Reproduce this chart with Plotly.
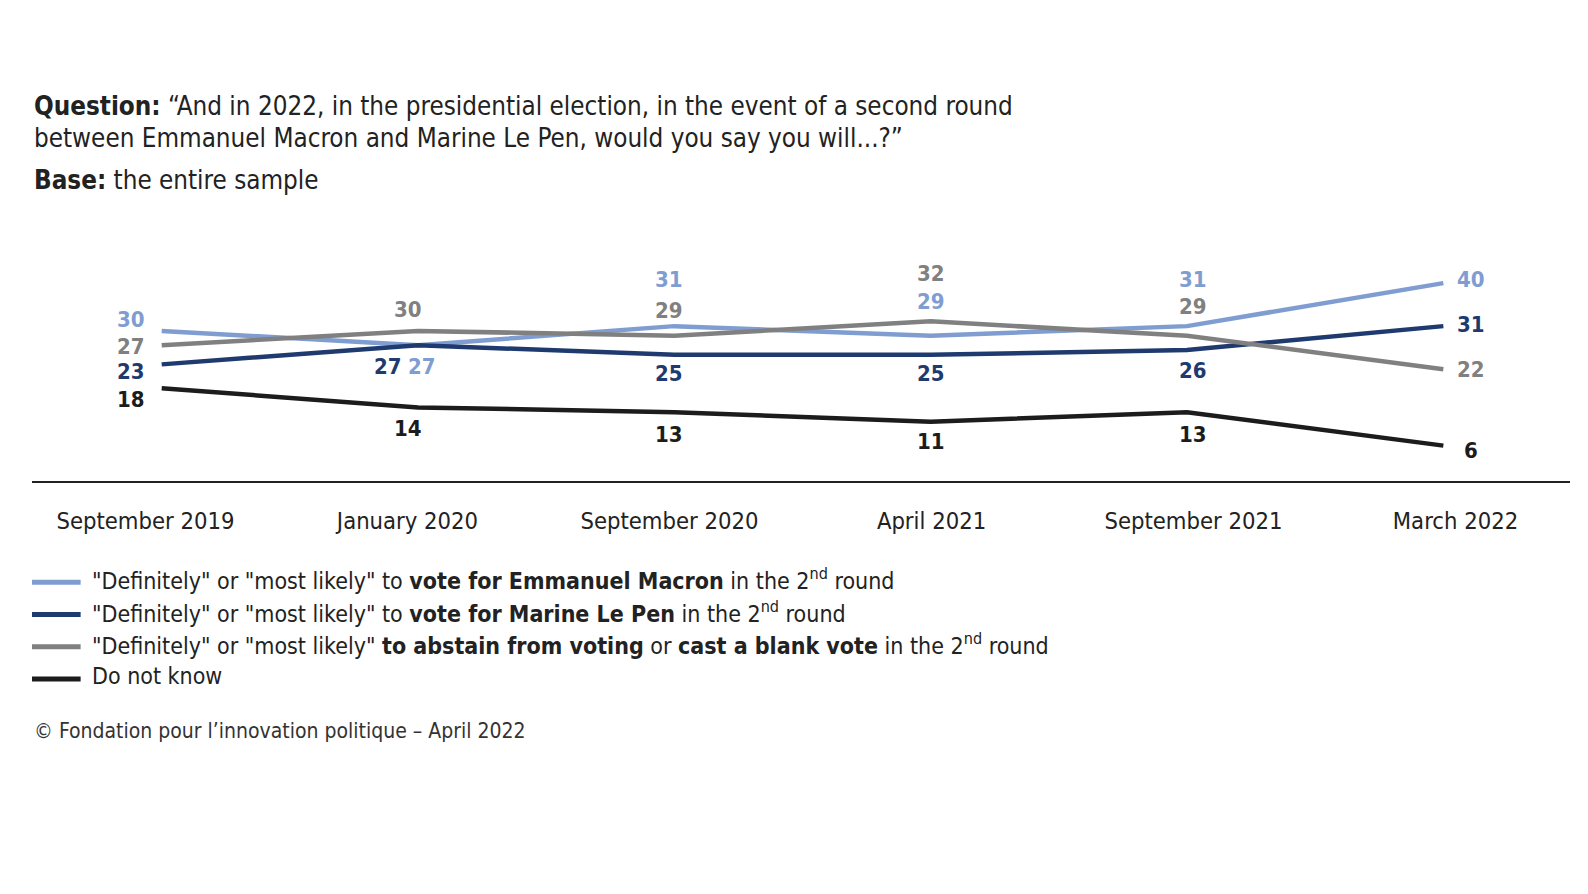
import plotly.graph_objects as go

# survey waves
waves = ["September 2019", "January 2020", "September 2020",
         "April 2021", "September 2021", "March 2022"]

# % of respondents
macron = [30, 27, 31, 29, 31, 40]
le_pen = [23, 27, 25, 25, 26, 31]
abstain = [27, 30, 29, 32, 29, 22]
dont_know = [18, 14, 13, 11, 13, 6]

legend_labels = [
    '"Definitely" or "most likely" to <b>vote for Emmanuel Macron</b> in the 2<sup>nd</sup> round',
    '"Definitely" or "most likely" to <b>vote for Marine Le Pen</b> in the 2<sup>nd</sup> round',
    '"Definitely" or "most likely" <b>to abstain from voting</b> or <b>cast a blank vote</b> in the 2<sup>nd</sup> round',
    'Do not know',
]

FONT = "DejaVu Sans Condensed, Liberation Sans Narrow, sans-serif"
colors = ["#7f9dd1", "#1f3a6f", "#808080", "#1c1c1c"]

K = 1.0132  # layout was measured on a slightly shrunk view

# label offsets in px (dx, dy) for each point of each series, dy positive = down
label_pos = [
    [(-30, -11), (4, 21), (-5, -46), (0, -34), (6, -46), (27, -4)],
    [(-30, 7), (-30, 21), (-5, 18), (0, 18), (6, 20), (27, -2)],
    [(-30, 1), (-10, -21), (-5, -25), (0, -47), (6, -29), (27, 0)],
    [(-30, 11), (-10, 21), (-5, 22), (0, 20), (6, 22), (27, 5)],
]

series = [macron, le_pen, abstain, dont_know]
x = list(range(len(waves)))

W, H = 1588, 894
# plot area in px
L, R, T, B = 32 * K, 1550 * K, 250 * K, 475 * K
X0, DX = 160 * K, 253 * K     # line points: first wave position, spacing
TX0, TDX = 144 * K, 258.6 * K  # tick labels sit on a slightly wider grid


def px(xp):
    return (xp * K - L) / (R - L)


def py(yp):
    return (B - yp * K) / (B - T)


fig = go.Figure()
for vals, col in zip(series, colors):
    fig.add_trace(go.Scatter(x=x, y=vals, mode="lines",
                             line=dict(color=col, width=4.5),
                             showlegend=False, hoverinfo="skip"))
# carrier for the tick-label axis
fig.add_trace(go.Scatter(x=x, y=[None] * len(x), xaxis="x2", mode="lines",
                         showlegend=False, hoverinfo="skip"))

annotations = []
for vals, col, offs in zip(series, colors, label_pos):
    for xi, v, (dx, dy) in zip(x, vals, offs):
        annotations.append(dict(
            x=xi, y=v, xref="x", yref="y", text="<b>%d</b>" % v,
            showarrow=False, xshift=dx * K, yshift=-dy * K,
            font=dict(family=FONT, size=22, color=col),
            xanchor="center", yanchor="middle"))

# title block
title_font = dict(family=FONT, size=25.8, color="#222")
annotations += [
    dict(x=0, y=py(105), xref="paper", yref="paper", xanchor="left", yanchor="middle",
         text="<b>Question:</b> “And in 2022, in the presidential election, in the event of a second round",
         showarrow=False, font=title_font),
    dict(x=0, y=py(137), xref="paper", yref="paper", xanchor="left", yanchor="middle",
         text="between Emmanuel Macron and Marine Le Pen, would you say you will...?”",
         showarrow=False, font=title_font),
    dict(x=0, y=py(178), xref="paper", yref="paper", xanchor="left", yanchor="middle",
         text="<b>Base:</b> the entire sample",
         showarrow=False, font=title_font),
]

# legend
shapes = []
for i, (lab, col) in enumerate(zip(legend_labels, colors)):
    yc = 572 + i * 31.8
    shapes.append(dict(type="line", xref="paper", yref="paper",
                       x0=px(32), x1=px(80), y0=py(yc + 3), y1=py(yc + 3),
                       line=dict(color=col, width=5)))
    annotations.append(dict(x=px(89), y=py(yc), xref="paper", yref="paper",
                            xanchor="left", yanchor="middle", text=lab,
                            showarrow=False,
                            font=dict(family=FONT, size=23, color="#222")))

annotations.append(dict(x=0, y=py(722), xref="paper", yref="paper",
                        xanchor="left", yanchor="middle",
                        text="© Fondation pour l’innovation politique – April 2022",
                        showarrow=False, font=dict(family=FONT, size=21, color="#333")))

fig.update_layout(
    width=W, height=H,
    margin=dict(l=L, r=W - R, t=T, b=H - B),
    paper_bgcolor="white", plot_bgcolor="white",
    xaxis=dict(range=[-(X0 - L) / DX, (R - X0) / DX],
               showticklabels=False,
               showgrid=False, zeroline=False, showline=True,
               linecolor="#222", linewidth=1.5, ticks=""),
    xaxis2=dict(overlaying="x", side="bottom", anchor="y",
                tickmode="array", tickvals=x, ticktext=waves,
                range=[-(TX0 - L) / TDX, (R - TX0) / TDX],
                showgrid=False, zeroline=False, showline=False, ticks="",
                ticklabelstandoff=23,
                tickfont=dict(family=FONT, size=23.6, color="#222")),
    yaxis=dict(range=[-1.4, 46.3], visible=False, showgrid=False),
    annotations=annotations,
    shapes=shapes,
)

fig.write_html("out.html",
               config={"displayModeBar": False},
               post_script="document.body.style.margin='0';")
